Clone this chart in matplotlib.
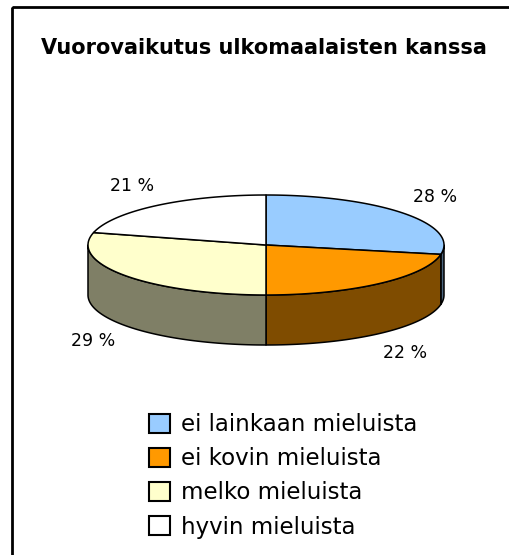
import numpy as np
import matplotlib
matplotlib.use('Agg')
import matplotlib.pyplot as plt
from matplotlib.patches import Polygon, Rectangle, Patch

title = 'Vuorovaikutus ulkomaalaisten kanssa'
categories = ['ei lainkaan mieluista', 'ei kovin mieluista', 'melko mieluista', 'hyvin mieluista']
values = [28, 22, 29, 21]
top_colors = ['#99CCFF', '#FF9900', '#FFFFCC', '#FFFFFF']
side_colors = ['#4C667F', '#7F4C00', '#7F7F66', '#7F7F7F']

plt.rcParams['font.family'] = ['DejaVu Sans']

fig = plt.figure(figsize=(5.1, 5.55), dpi=100)
ax = fig.add_axes([0, 0, 1, 1])
ax.set_xlim(0, 510)
ax.set_ylim(555, 0)
ax.axis('off')

# outer frame
ax.add_patch(Rectangle((12, 7), 600, 600, fill=False, lw=2, ec='black'))

# 3D pie geometry (layout)
cx, cy, rx, ry, depth = 266, 245, 178, 50, 50
fractions = np.array(values, dtype=float) / sum(values)
bounds = np.concatenate([[0], np.cumsum(fractions)]) * 2 * np.pi


def arc(a, b, dy=0.0):
    n = max(2, int(abs(b - a) * 80))
    t = np.linspace(a, b, n)
    return np.column_stack([cx + rx * np.sin(t), cy - ry * np.cos(t) + dy])


# side walls (front half only)
for i in range(len(values)):
    a = max(bounds[i], np.pi / 2)
    b = min(bounds[i + 1], 3 * np.pi / 2)
    if b > a:
        pts = np.vstack([arc(a, b), arc(b, a, depth)])
        ax.add_patch(Polygon(pts, closed=True, fc=side_colors[i], ec='black',
                             lw=1.1, joinstyle='round', zorder=2))

# top faces
for i in range(len(values)):
    pts = np.vstack([[[cx, cy]], arc(bounds[i], bounds[i + 1])])
    ax.add_patch(Polygon(pts, closed=True, fc=top_colors[i], ec='black',
                         lw=1.1, joinstyle='round', zorder=3))

# percentage labels
for i, v in enumerate(values):
    m = (bounds[i] + bounds[i + 1]) / 2
    x = cx + 1.23 * rx * np.sin(m)
    y = cy - 1.5 * ry * np.cos(m) + (depth if np.cos(m) < 0 else 0)
    ax.text(x, y, f'{v} %', ha='center', va='center', fontsize=12.5, zorder=4)

# title
ax.text(264, 54, title, ha='center', va='baseline', fontsize=15,
        fontweight='bold')

# legend
handles = [Patch(fc=c, ec='black', lw=1.5) for c in top_colors]
ax.legend(handles, categories, loc='upper left', bbox_to_anchor=(149, 413),
          bbox_transform=ax.transData, frameon=False, fontsize=16.5,
          handlelength=0.9, handleheight=0.9, handletextpad=0.5,
          labelspacing=0.49, borderpad=0, borderaxespad=0)

fig.savefig('out.png', dpi=100, facecolor='white')
